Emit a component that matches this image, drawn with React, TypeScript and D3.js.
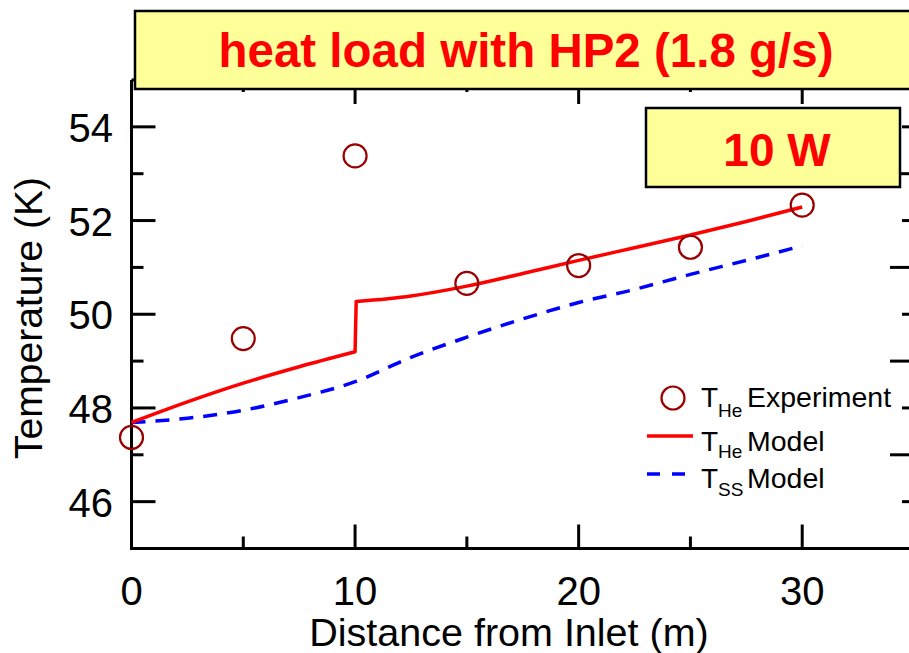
import React from "react";
import * as d3 from "d3";

// ---- data ----
const expX = [0, 5, 10, 15, 20, 25, 30];
const expT = [47.37, 49.48, 53.38, 50.66, 51.04, 51.43, 52.33];

// He model: before the step at 10 m and after it
const heModelX1 = [0, 2.5, 5, 7.5, 10];
const heModelT1 = [47.69, 48.13, 48.53, 48.88, 49.2];
const heModelX2 = [10.05, 12.5, 15, 17.5, 20, 22.5, 25, 27.5, 30];
const heModelT2 = [50.27, 50.39, 50.6, 50.87, 51.15, 51.42, 51.69, 51.98, 52.29];

const ssModelX = [0, 2.5, 5, 7.5, 10, 12.5, 15, 17.5, 20, 22.5, 25, 27.5, 30];
const ssModelT = [47.69, 47.78, 47.95, 48.22, 48.56, 49.08, 49.51, 49.9, 50.25, 50.53, 50.85, 51.15, 51.46];

const xTickLabels = [0, 10, 20, 30];
const xMinorTicks = [5, 15, 25, 35];
const yTickLabels = [46, 48, 50, 52, 54];
const yMinorTicks = [45, 47, 49, 51, 53];

const titleText = "heat load with HP2 (1.8 g/s)";
const boxText = "10 W";
const xAxisTitle = "Distance from Inlet (m)";
const yAxisTitle = "Temperature (K)";

const FONT = "'Liberation Sans', Arial, Helvetica, sans-serif";

export default function App() {
  const W = 909;
  const H = 653;
  const left = 131.5;
  const right = 914;
  const top = 80;
  const bottom = 548.5;

  const x = d3.scaleLinear().domain([0, 35]).range([left, right]);
  const y = d3.scaleLinear().domain([45, 55]).range([bottom, top]);

  const line = d3
    .line<[number, number]>()
    .x((d) => x(d[0]))
    .y((d) => y(d[1]))
    .curve(d3.curveMonotoneX);

  const seg1 = line(heModelX1.map((v, i) => [v, heModelT1[i]]) as [number, number][]) || "";
  const seg2 = line(heModelX2.map((v, i) => [v, heModelT2[i]]) as [number, number][]) || "";
  const hePath = seg1 + seg2.replace(/^M/, "L");
  const ssPath = line(ssModelX.map((v, i) => [v, ssModelT[i]]) as [number, number][]) || "";

  const red = "#ff0000";
  const blue = "#0000ff";
  const darkRed = "#990000";
  const yellow = "#ffff99";

  return (
    <svg
      width={W}
      height={H}
      viewBox={`0 0 ${W} ${H}`}
      style={{ position: "absolute", left: 0, top: 0, background: "#fff" }}
      fontFamily={FONT}
    >
      {/* axes frame */}
      <g stroke="#000" strokeWidth={3} fill="none">
        <line x1={left} y1={top} x2={left} y2={bottom + 1.5} />
        <line x1={left - 1.5} y1={bottom} x2={right} y2={bottom} />
        <line x1={left} y1={top} x2={right} y2={top} />
        <line x1={right} y1={top} x2={right} y2={bottom} />
        {yTickLabels.map((v) => (
          <line key={"yl" + v} x1={left} x2={left + 24} y1={y(v)} y2={y(v)} />
        ))}
        {yMinorTicks.map((v) => (
          <line key={"ylm" + v} x1={left} x2={left + 12} y1={y(v)} y2={y(v)} />
        ))}
        {yMinorTicks.map((v) => (
          <line key={"yr" + v} x1={right} x2={right - 24} y1={y(v)} y2={y(v)} />
        ))}
        {yTickLabels.map((v) => (
          <line key={"yrm" + v} x1={right} x2={right - 12} y1={y(v)} y2={y(v)} />
        ))}
        {xTickLabels.map((v) => (
          <line key={"xb" + v} x1={x(v)} x2={x(v)} y1={bottom} y2={bottom - 24} />
        ))}
        {xMinorTicks.map((v) => (
          <line key={"xbm" + v} x1={x(v)} x2={x(v)} y1={bottom} y2={bottom - 12} />
        ))}
        {xTickLabels.map((v) => (
          <line key={"xt" + v} x1={x(v)} x2={x(v)} y1={top} y2={top + 24} />
        ))}
        {xMinorTicks.map((v) => (
          <line key={"xtm" + v} x1={x(v)} x2={x(v)} y1={top} y2={top + 12} />
        ))}
      </g>

      {/* tick labels */}
      <g fontSize={40} fill="#000">
        {yTickLabels.map((v) => (
          <text key={"yt" + v} x={113} y={y(v) + 15} textAnchor="end">
            {v}
          </text>
        ))}
        {xTickLabels.map((v) => (
          <text key={"xtl" + v} x={x(v)} y={605} textAnchor="middle">
            {v}
          </text>
        ))}
      </g>

      {/* axis titles */}
      <text x={509} y={646} fontSize={39.5} textAnchor="middle" fill="#000">
        {xAxisTitle}
      </text>
      <text
        transform={`translate(42, 318) rotate(-90)`}
        fontSize={39}
        textAnchor="middle"
        fill="#000"
      >
        {yAxisTitle}
      </text>

      {/* model lines */}
      <path d={ssPath} fill="none" stroke={blue} strokeWidth={3.5} strokeDasharray="14,10" />
      <path d={hePath} fill="none" stroke={red} strokeWidth={3.5} strokeLinejoin="round" />

      {/* experiment points */}
      {expX.map((v, i) => (
        <circle
          key={"e" + v}
          cx={x(v)}
          cy={y(expT[i])}
          r={11.5}
          fill="none"
          stroke={darkRed}
          strokeWidth={2.2}
        />
      ))}

      {/* title box */}
      <rect x={135} y={11} width={800} height={78} fill={yellow} stroke="#000" strokeWidth={2.5} />
      <text x={526} y={67} fontSize={47.5} fontWeight="bold" fill={red} textAnchor="middle">
        {titleText}
      </text>

      {/* 10 W box */}
      <rect x={646} y={108} width={254} height={79} fill={yellow} stroke="#000" strokeWidth={2.5} />
      <text x={777} y={166} fontSize={46} fontWeight="bold" fill={red} textAnchor="middle">
        {boxText}
      </text>

      {/* legend */}
      <g fill="#000">
        <circle cx={673} cy={398} r={11.5} fill="none" stroke={darkRed} strokeWidth={2.2} />
        <text x={701} y={407} fontSize={28}>T</text>
        <text x={718} y={417} fontSize={19}>He</text>
        <text x={747} y={407} fontSize={28.5}>Experiment</text>

        <line x1={647} x2={693} y1={436} y2={436} stroke={red} strokeWidth={3.5} />
        <text x={701} y={451} fontSize={28}>T</text>
        <text x={718} y={458} fontSize={19}>He</text>
        <text x={747} y={451} fontSize={28.5}>Model</text>

        <line x1={647} x2={686} y1={474} y2={474} stroke={blue} strokeWidth={3.5} strokeDasharray="13,12" />
        <text x={701} y={488} fontSize={28}>T</text>
        <text x={718} y={496} fontSize={19}>SS</text>
        <text x={747} y={488} fontSize={28.5}>Model</text>
      </g>
    </svg>
  );
}
